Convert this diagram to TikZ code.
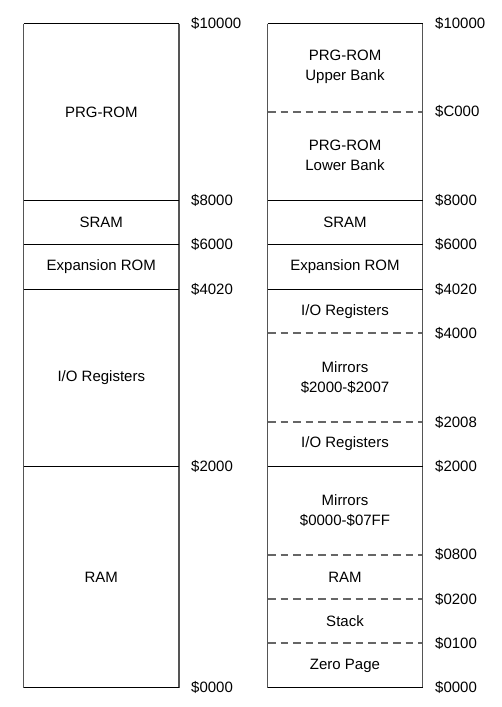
\documentclass[tikz,border=0pt]{standalone}
\usepackage{fontspec}
\setmainfont{Liberation Sans}
\usepackage{tikz}
\usetikzlibrary{positioning}
\definecolor{mapgray}{HTML}{555555}
\definecolor{dashgray}{HTML}{666666}

\begin{document}
\begin{tikzpicture}[
    x=1pt, y=-1pt,
    region/.style={font=\fontsize{15}{20.5}\selectfont, align=center, inner sep=0pt},
    addr/.style={font=\fontsize{15}{18}\selectfont, anchor=west, inner sep=0pt},
    hline/.style={black, line width=1pt},
    dline/.style={dashgray, line width=2pt, dash pattern=on 7.5pt off 5pt},
    vline/.style={mapgray, line width=1.3pt},
]
    \useasboundingbox (0,0) rectangle (501,707);

    % Left map
    \draw[vline] (23.5,23.5) -- (23.5,687.5);
    \draw[vline] (179,23.5) -- (179,687.5);
    \draw[hline] (23.5,23.5) -- (179,23.5);
    \draw[hline] (23.5,200.5) -- (179,200.5);
    \draw[hline] (23.5,244.5) -- (179,244.5);
    \draw[hline] (23.5,289.5) -- (179,289.5);
    \draw[hline] (23.5,466.5) -- (179,466.5);
    \draw[hline] (23.5,687.5) -- (179,687.5);

    \node[region] (lprg) at (101.3,111.9) {PRG-ROM};
    \node[region] (lsram) at (101.3,222.6) {SRAM};
    \node[region] (lexp) at (101.3,266.9) {Expansion ROM};
    \node[region] (lio) at (101.3,377.7) {I/O Registers};
    \node[region] (lram) at (101.3,577) {RAM};

    \node[addr] (la10000) at (191,23.3) {\$10000};
    \node[addr] (la8000) at (191,200.5) {\$8000};
    \node[addr] (la6000) at (191,244.8) {\$6000};
    \node[addr] (la4020) at (191,289.1) {\$4020};
    \node[addr] (la2000) at (191,466.3) {\$2000};
    \node[addr] (la0000) at (191,687.8) {\$0000};

    % Right map
    \draw[vline] (267.5,23.5) -- (267.5,687.5);
    \draw[vline] (422.7,23.5) -- (422.7,687.5);
    \draw[hline] (267.5,23.5) -- (422.7,23.5);
    \draw[dline] (268.2,112) -- (422,112);
    \draw[hline] (267.5,200.5) -- (422.7,200.5);
    \draw[hline] (267.5,244.5) -- (422.7,244.5);
    \draw[hline] (267.5,289.5) -- (422.7,289.5);
    \draw[dline] (268.2,333) -- (422,333);
    \draw[dline] (268.2,422) -- (422,422);
    \draw[hline] (267.5,466.5) -- (422.7,466.5);
    \draw[dline] (268.2,555) -- (422,555);
    \draw[dline] (268.2,599) -- (422,599);
    \draw[dline] (268.2,643) -- (422,643);
    \draw[hline] (267.5,687.5) -- (422.7,687.5);

    \node[region] (rupper) at (345,66.6) {PRG-ROM\\Upper Bank};
    \node[region] (rlower) at (345,155.2) {PRG-ROM\\Lower Bank};
    \node[region] (rsram) at (345,222.6) {SRAM};
    \node[region] (rexp) at (345,266.9) {Expansion ROM};
    \node[region] (rio) at (345,311.2) {I/O Registers};
    \node[region] (rmirio) at (345,377.7) {Mirrors\\\$2000-\$2007};
    \node[region] (rio2) at (345,444.1) {I/O Registers};
    \node[region] (rmirram) at (345,510.6) {Mirrors\\\$0000-\$07FF};
    \node[region] (rram) at (345,577) {RAM};
    \node[region] (rstack) at (345,621.3) {Stack};
    \node[region] (rzero) at (345,665.6) {Zero Page};

    \node[addr] (ra10000) at (435,23.3) {\$10000};
    \node[addr] (rac000) at (435,111.9) {\$C000};
    \node[addr] (ra8000) at (435,200.5) {\$8000};
    \node[addr] (ra6000) at (435,244.8) {\$6000};
    \node[addr] (ra4020) at (435,289.1) {\$4020};
    \node[addr] (ra4000) at (435,333.4) {\$4000};
    \node[addr] (ra2008) at (435,422) {\$2008};
    \node[addr] (ra2000) at (435,466.3) {\$2000};
    \node[addr] (ra0800) at (435,554.9) {\$0800};
    \node[addr] (ra0200) at (435,599.2) {\$0200};
    \node[addr] (ra0100) at (435,643.5) {\$0100};
    \node[addr] (ra0000) at (435,687.8) {\$0000};
\end{tikzpicture}
\end{document}
